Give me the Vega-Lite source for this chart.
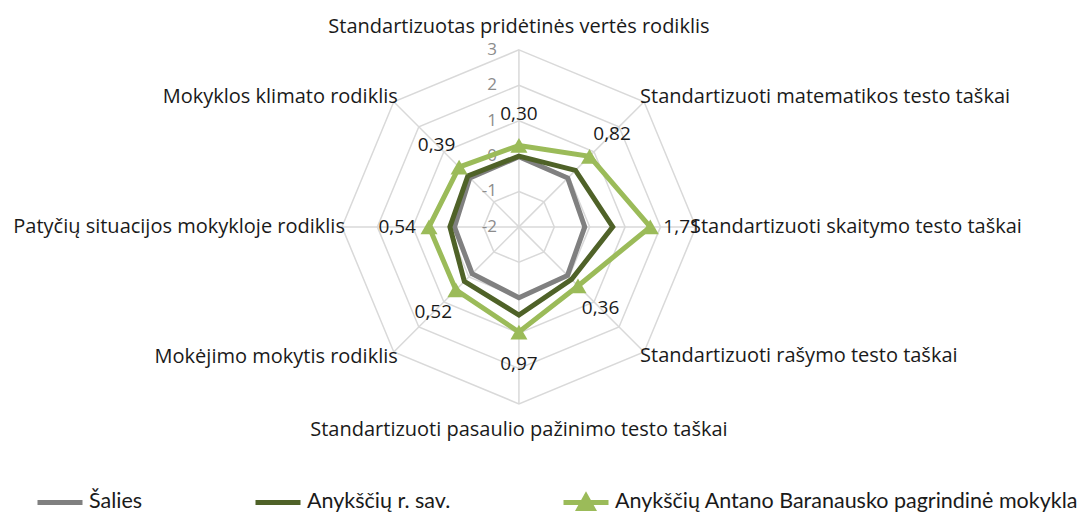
{
  "$schema": "https://vega.github.io/schema/vega-lite/v6.json",
  "width": 1086,
  "height": 515,
  "autosize": {"type": "none"},
  "padding": 0,
  "background": "white",
  "config": {"view": {"stroke": null}, "text": {"font": "Open Sans"}},
  "datasets": {
    "axes": [
      {"i": 0, "axis": "Standartizuotas pridėtinės vertės rodiklis"},
      {"i": 1, "axis": "Standartizuoti matematikos testo taškai"},
      {"i": 2, "axis": "Standartizuoti skaitymo testo taškai"},
      {"i": 3, "axis": "Standartizuoti rašymo testo taškai"},
      {"i": 4, "axis": "Standartizuoti pasaulio pažinimo testo taškai"},
      {"i": 5, "axis": "Mokėjimo mokytis rodiklis"},
      {"i": 6, "axis": "Patyčių situacijos mokykloje rodiklis"},
      {"i": 7, "axis": "Mokyklos klimato rodiklis"}
    ],
    "series": [
      {"series": "Šalies", "i": 0, "value": -0.02},
      {"series": "Šalies", "i": 1, "value": -0.05},
      {"series": "Šalies", "i": 2, "value": -0.14},
      {"series": "Šalies", "i": 3, "value": -0.06},
      {"series": "Šalies", "i": 4, "value": 0.0},
      {"series": "Šalies", "i": 5, "value": -0.13},
      {"series": "Šalies", "i": 6, "value": -0.18},
      {"series": "Šalies", "i": 7, "value": -0.04},
      {"series": "Anykščių r. sav.", "i": 0, "value": 0.0},
      {"series": "Anykščių r. sav.", "i": 1, "value": 0.26},
      {"series": "Anykščių r. sav.", "i": 2, "value": 0.65},
      {"series": "Anykščių r. sav.", "i": 3, "value": 0.1},
      {"series": "Anykščių r. sav.", "i": 4, "value": 0.49},
      {"series": "Anykščių r. sav.", "i": 5, "value": 0.18},
      {"series": "Anykščių r. sav.", "i": 6, "value": -0.05},
      {"series": "Anykščių r. sav.", "i": 7, "value": 0.04},
      {"series": "Anykščių Antano Baranausko pagrindinė mokykla", "i": 0, "value": 0.30},
      {"series": "Anykščių Antano Baranausko pagrindinė mokykla", "i": 1, "value": 0.82},
      {"series": "Anykščių Antano Baranausko pagrindinė mokykla", "i": 2, "value": 1.71},
      {"series": "Anykščių Antano Baranausko pagrindinė mokykla", "i": 3, "value": 0.36},
      {"series": "Anykščių Antano Baranausko pagrindinė mokykla", "i": 4, "value": 0.97},
      {"series": "Anykščių Antano Baranausko pagrindinė mokykla", "i": 5, "value": 0.52},
      {"series": "Anykščių Antano Baranausko pagrindinė mokykla", "i": 6, "value": 0.54},
      {"series": "Anykščių Antano Baranausko pagrindinė mokykla", "i": 7, "value": 0.39}
    ],
    "grid": [
      {"ring": -1, "i": 0}, {"ring": -1, "i": 1}, {"ring": -1, "i": 2}, {"ring": -1, "i": 3}, {"ring": -1, "i": 4}, {"ring": -1, "i": 5}, {"ring": -1, "i": 6}, {"ring": -1, "i": 7},
      {"ring": 0, "i": 0}, {"ring": 0, "i": 1}, {"ring": 0, "i": 2}, {"ring": 0, "i": 3}, {"ring": 0, "i": 4}, {"ring": 0, "i": 5}, {"ring": 0, "i": 6}, {"ring": 0, "i": 7},
      {"ring": 1, "i": 0}, {"ring": 1, "i": 1}, {"ring": 1, "i": 2}, {"ring": 1, "i": 3}, {"ring": 1, "i": 4}, {"ring": 1, "i": 5}, {"ring": 1, "i": 6}, {"ring": 1, "i": 7},
      {"ring": 2, "i": 0}, {"ring": 2, "i": 1}, {"ring": 2, "i": 2}, {"ring": 2, "i": 3}, {"ring": 2, "i": 4}, {"ring": 2, "i": 5}, {"ring": 2, "i": 6}, {"ring": 2, "i": 7},
      {"ring": 3, "i": 0}, {"ring": 3, "i": 1}, {"ring": 3, "i": 2}, {"ring": 3, "i": 3}, {"ring": 3, "i": 4}, {"ring": 3, "i": 5}, {"ring": 3, "i": 6}, {"ring": 3, "i": 7}
    ],
    "ticks": [
      {"tick": -2}, {"tick": -1}, {"tick": 0}, {"tick": 1}, {"tick": 2}, {"tick": 3}
    ]
  },
  "encoding": {
    "x": {"field": "x", "type": "quantitative", "scale": {"domain": [-14.66, 16.02], "nice": false, "zero": false}, "axis": null},
    "y": {"field": "y", "type": "quantitative", "scale": {"domain": [-8.14, 6.41], "nice": false, "zero": false}, "axis": null}
  },
  "layer": [
    {
      "data": {"name": "grid"},
      "transform": [
        {"calculate": "datum.ring + 2", "as": "r"},
        {"calculate": "datum.r * sin(datum.i * PI / 4)", "as": "x"},
        {"calculate": "datum.r * cos(datum.i * PI / 4)", "as": "y"}
      ],
      "mark": {"type": "line", "interpolate": "linear-closed", "color": "#d9d9d9", "strokeWidth": 1.5},
      "encoding": {"detail": {"field": "ring"}, "order": {"field": "i", "type": "quantitative"}}
    },
    {
      "data": {"name": "axes"},
      "transform": [
        {"calculate": "5 * sin(datum.i * PI / 4)", "as": "x"},
        {"calculate": "5 * cos(datum.i * PI / 4)", "as": "y"}
      ],
      "mark": {"type": "rule", "color": "#d9d9d9", "strokeWidth": 1.5},
      "encoding": {"x2": {"datum": 0}, "y2": {"datum": 0}}
    },
    {
      "data": {"name": "ticks"},
      "transform": [
        {"calculate": "0", "as": "x"},
        {"calculate": "datum.tick + 2", "as": "y"}
      ],
      "mark": {"type": "text", "align": "right", "baseline": "middle", "dx": -22, "fontSize": 17, "color": "#8c8c8c"},
      "encoding": {"text": {"field": "tick"}}
    },
    {
      "data": {"name": "series"},
      "transform": [
        {"filter": "datum.series === 'Šalies'"},
        {"calculate": "datum.value + 2", "as": "r"},
        {"calculate": "datum.r * sin(datum.i * PI / 4)", "as": "x"},
        {"calculate": "datum.r * cos(datum.i * PI / 4)", "as": "y"}
      ],
      "mark": {"type": "line", "interpolate": "linear-closed", "strokeWidth": 5},
      "encoding": {
        "order": {"field": "i", "type": "quantitative"},
        "color": {
          "field": "series", "type": "nominal",
          "scale": {"domain": ["Šalies", "Anykščių r. sav.", "Anykščių Antano Baranausko pagrindinė mokykla"], "range": ["#808080", "#4f6228", "#9bbb59"]},
          "legend": {
            "orient": "none", "legendX": 35, "legendY": 477, "direction": "horizontal", "title": null,
            "symbolType": "stroke", "symbolSize": 2025, "symbolStrokeWidth": 5,
            "labelFont": "Lato", "labelFontSize": 21.5, "labelColor": "#1a1a1a",
            "labelOffset": 4, "columnPadding": 102, "padding": 0, "labelLimit": 700,
            "encode": {"symbols": {"update": {
              "shape": {"signal": "datum.value === 'Anykščių Antano Baranausko pagrindinė mokykla' ? 'M-1,0L1,0M-0.3,0.27L0,-0.27L0.3,0.27Z' : 'M-1,0L1,0M0,-0.27M0,0.27'"},
              "fill": {"signal": "datum.value === 'Anykščių Antano Baranausko pagrindinė mokykla' ? '#9bbb59' : 'transparent'"},
              "strokeWidth": {"value": 5}
            }}}
          }
        }
      }
    },
    {
      "data": {"name": "series"},
      "transform": [
        {"filter": "datum.series === 'Anykščių r. sav.'"},
        {"calculate": "datum.value + 2", "as": "r"},
        {"calculate": "datum.r * sin(datum.i * PI / 4)", "as": "x"},
        {"calculate": "datum.r * cos(datum.i * PI / 4)", "as": "y"}
      ],
      "mark": {"type": "line", "interpolate": "linear-closed", "strokeWidth": 5},
      "encoding": {
        "order": {"field": "i", "type": "quantitative"},
        "color": {"field": "series", "type": "nominal"}
      }
    },
    {
      "data": {"name": "series"},
      "transform": [
        {"filter": "datum.series === 'Anykščių Antano Baranausko pagrindinė mokykla'"},
        {"calculate": "datum.value + 2", "as": "r"},
        {"calculate": "datum.r * sin(datum.i * PI / 4)", "as": "x"},
        {"calculate": "datum.r * cos(datum.i * PI / 4)", "as": "y"}
      ],
      "mark": {"type": "line", "interpolate": "linear-closed", "strokeWidth": 5},
      "encoding": {
        "order": {"field": "i", "type": "quantitative"},
        "color": {"field": "series", "type": "nominal"}
      }
    },
    {
      "data": {"name": "series"},
      "transform": [
        {"filter": "datum.series === 'Anykščių Antano Baranausko pagrindinė mokykla'"},
        {"calculate": "datum.value + 2", "as": "r"},
        {"calculate": "datum.r * sin(datum.i * PI / 4)", "as": "x"},
        {"calculate": "datum.r * cos(datum.i * PI / 4)", "as": "y"}
      ],
      "mark": {"type": "point", "shape": "triangle-up", "filled": true, "size": 290, "color": "#9bbb59", "opacity": 1}
    },
    {
      "data": {"name": "series"},
      "transform": [
        {"filter": "datum.series === 'Anykščių Antano Baranausko pagrindinė mokykla'"},
        {"calculate": "datum.value + 2.9", "as": "r"},
        {"calculate": "datum.r * sin(datum.i * PI / 4)", "as": "x"},
        {"calculate": "datum.r * cos(datum.i * PI / 4)", "as": "y"},
        {"calculate": "replace(format(datum.value, '.2f'), '.', ',')", "as": "lbl"}
      ],
      "mark": {"type": "text", "align": "center", "baseline": "middle", "fontSize": 19, "color": "#1a1a1a"},
      "encoding": {"text": {"field": "lbl"}}
    },
    {
      "data": {"name": "axes"},
      "transform": [
        {"filter": "datum.i === 0"},
        {"calculate": "5 * sin(datum.i * PI / 4)", "as": "x"},
        {"calculate": "5 * cos(datum.i * PI / 4)", "as": "y"}
      ],
      "mark": {"type": "text", "align": "center", "baseline": "alphabetic", "dy": -17, "fontSize": 20, "color": "#1a1a1a"},
      "encoding": {"text": {"field": "axis"}}
    },
    {
      "data": {"name": "axes"},
      "transform": [
        {"filter": "datum.i === 4"},
        {"calculate": "5 * sin(datum.i * PI / 4)", "as": "x"},
        {"calculate": "5 * cos(datum.i * PI / 4)", "as": "y"}
      ],
      "mark": {"type": "text", "align": "center", "baseline": "alphabetic", "dy": 32, "fontSize": 20, "color": "#1a1a1a"},
      "encoding": {"text": {"field": "axis"}}
    },
    {
      "data": {"name": "axes"},
      "transform": [
        {"filter": "datum.i === 1"},
        {"calculate": "5 * sin(datum.i * PI / 4)", "as": "x"},
        {"calculate": "5 * cos(datum.i * PI / 4)", "as": "y"}
      ],
      "mark": {"type": "text", "align": "left", "baseline": "middle", "dx": -4, "dy": -5, "fontSize": 20, "color": "#1a1a1a"},
      "encoding": {"text": {"field": "axis"}}
    },
    {
      "data": {"name": "axes"},
      "transform": [
        {"filter": "datum.i === 2"},
        {"calculate": "5 * sin(datum.i * PI / 4)", "as": "x"},
        {"calculate": "5 * cos(datum.i * PI / 4)", "as": "y"}
      ],
      "mark": {"type": "text", "align": "left", "baseline": "middle", "dx": -6, "dy": 0, "fontSize": 20, "color": "#1a1a1a"},
      "encoding": {"text": {"field": "axis"}}
    },
    {
      "data": {"name": "axes"},
      "transform": [
        {"filter": "datum.i === 3"},
        {"calculate": "5 * sin(datum.i * PI / 4)", "as": "x"},
        {"calculate": "5 * cos(datum.i * PI / 4)", "as": "y"}
      ],
      "mark": {"type": "text", "align": "left", "baseline": "middle", "dx": -4, "dy": 4, "fontSize": 20, "color": "#1a1a1a"},
      "encoding": {"text": {"field": "axis"}}
    },
    {
      "data": {"name": "axes"},
      "transform": [
        {"filter": "datum.i === 5"},
        {"calculate": "5 * sin(datum.i * PI / 4)", "as": "x"},
        {"calculate": "5 * cos(datum.i * PI / 4)", "as": "y"}
      ],
      "mark": {"type": "text", "align": "right", "baseline": "middle", "dx": 4, "dy": 5, "fontSize": 20, "color": "#1a1a1a"},
      "encoding": {"text": {"field": "axis"}}
    },
    {
      "data": {"name": "axes"},
      "transform": [
        {"filter": "datum.i === 6"},
        {"calculate": "5 * sin(datum.i * PI / 4)", "as": "x"},
        {"calculate": "5 * cos(datum.i * PI / 4)", "as": "y"}
      ],
      "mark": {"type": "text", "align": "right", "baseline": "middle", "dx": 3, "dy": 0, "fontSize": 20, "color": "#1a1a1a"},
      "encoding": {"text": {"field": "axis"}}
    },
    {
      "data": {"name": "axes"},
      "transform": [
        {"filter": "datum.i === 7"},
        {"calculate": "5 * sin(datum.i * PI / 4)", "as": "x"},
        {"calculate": "5 * cos(datum.i * PI / 4)", "as": "y"}
      ],
      "mark": {"type": "text", "align": "right", "baseline": "middle", "dx": 4, "dy": -5, "fontSize": 20, "color": "#1a1a1a"},
      "encoding": {"text": {"field": "axis"}}
    }
  ]
}
